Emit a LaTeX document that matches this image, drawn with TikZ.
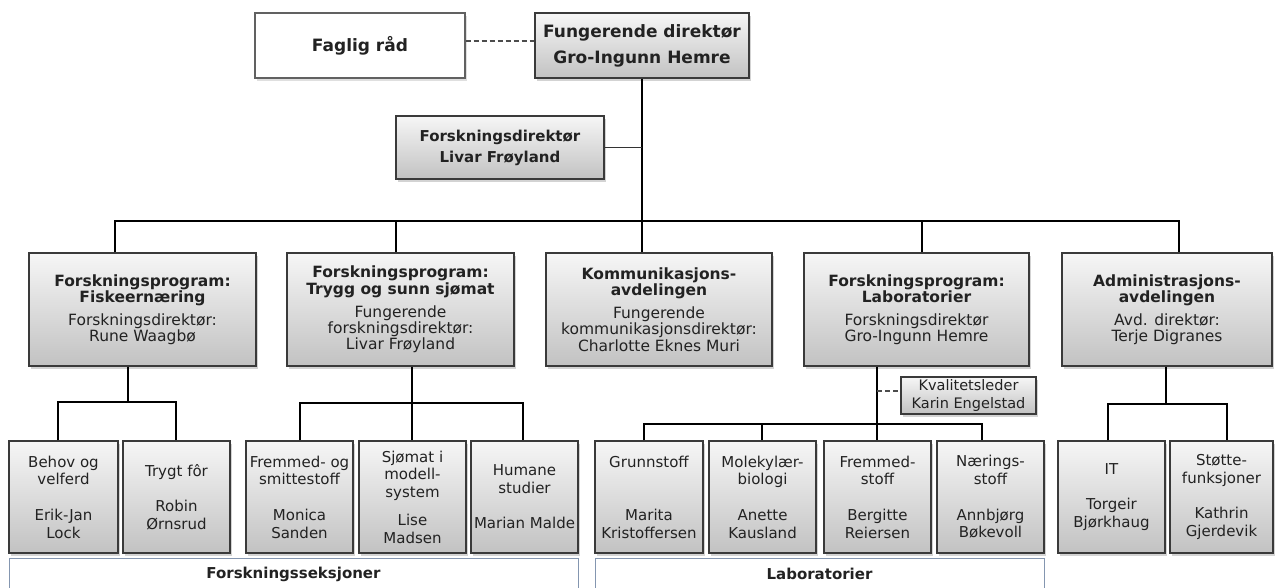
\documentclass[tikz,border=0pt]{standalone}
\usepackage{fontspec}
\setmainfont{DejaVu Sans}
\usetikzlibrary{shadows}
\definecolor{boxline}{HTML}{3A3A3A}
\definecolor{gtop}{HTML}{F6F6F6}
\definecolor{gbot}{HTML}{C2C2C2}
\definecolor{barline}{HTML}{8496B0}
\definecolor{txt}{HTML}{222222}
\tikzset{
  x=1pt, y=-1pt,
  gbox/.style={draw=boxline, line width=1.2pt, top color=gtop, bottom color=gbot,
    drop shadow={shadow xshift=2pt, shadow yshift=-2.5pt, opacity=0.35},
    inner sep=0pt, align=center, text=txt},
  wbox/.style={draw=boxline!80, line width=1.2pt, fill=white,
    drop shadow={shadow xshift=2pt, shadow yshift=-2.5pt, opacity=0.25},
    inner sep=0pt, align=center, text=txt},
  topfont/.style={font=\fontsize{17}{26}\selectfont\bfseries},
  fdfont/.style={font=\fontsize{15}{21}\selectfont\bfseries},
  progfont/.style={font=\fontsize{15.5}{16.3}\selectfont},
  smallfont/.style={font=\fontsize{15}{17.7}\selectfont},
  sbox/.style={gbox, smallfont, minimum height=112pt},
  pbox/.style={gbox, progfont, minimum height=113pt},
  barbox/.style={draw=barline, line width=1pt, fill=white, inner sep=0pt,
    font=\fontsize{15}{17}\selectfont\bfseries, text=txt, minimum height=32pt},
  conn/.style={draw=black, line width=2pt},
  thinconn/.style={draw=black!80, line width=1pt},
  dashconn/.style={draw=black!70, line width=1.1pt, dashed, dash pattern=on 5pt off 3pt},
}
\begin{document}
\begin{tikzpicture}
\useasboundingbox (0,0) rectangle (1275,587);

% top level
\node[wbox, topfont, minimum width=210pt, minimum height=65pt] (faglig) at (360,45.5) {Faglig råd};
\node[gbox, topfont, minimum width=214pt, minimum height=65pt] (dir) at (642,45.5) {Fungerende direktør\\Gro-Ingunn Hemre};
\node[gbox, fdfont, minimum width=208pt, minimum height=63pt] (fdir) at (500,147.5) {Forskningsdirektør\\Livar Frøyland};

% programme boxes
\node[pbox, minimum width=227pt] (fisk) at (142.5,309.5)
  {\textbf{Forskningsprogram:}\\\textbf{Fiskeernæring}\\[6.5pt]Forskningsdirektør:\\Rune Waagbø};
\node[pbox, minimum width=227pt] (trygg) at (400.5,309.5)
  {\textbf{Forskningsprogram:}\\\textbf{Trygg og sunn sjømat}\\[6.5pt]Fungerende\\forskningsdirektør:\\Livar Frøyland};
\node[pbox, minimum width=226pt] (komm) at (659,309.5)
  {\textbf{Kommunikasjons-}\\\textbf{avdelingen}\\[6.5pt]Fungerende\\kommunikasjonsdirektør:\\Charlotte Eknes Muri};
\node[pbox, minimum width=225pt] (lab) at (916.5,309.5)
  {\textbf{Forskningsprogram:}\\\textbf{Laboratorier}\\[6.5pt]Forskningsdirektør\\Gro-Ingunn Hemre};
\node[pbox, minimum width=210pt] (adm) at (1167,309.5)
  {\textbf{Administrasjons-}\\\textbf{avdelingen}\\[6.5pt]Avd. direktør:\\Terje Digranes};

\node[gbox, font=\fontsize{14.5}{18}\selectfont, minimum width=135pt, minimum height=37pt] (kval) at (968.5,395.5)
  {Kvalitetsleder\\Karin Engelstad};

% section boxes
\node[sbox, minimum width=109pt] (behov) at (63.5,497) {Behov og\\velferd\\[17.7pt]Erik-Jan\\Lock};
\node[sbox, minimum width=107pt] (tfor) at (176.5,497) {Trygt fôr\\[17.7pt]Robin\\Ørnsrud};
\node[sbox, minimum width=107pt] (fremsm) at (299.5,497) {Fremmed- og\\smittestoff\\[17.7pt]Monica\\Sanden};
\node[sbox, minimum width=107pt] (sjo) at (412.5,497) {Sjømat i\\modell-\\system\\[10pt]Lise\\Madsen};
\node[sbox, minimum width=107pt] (hum) at (524.5,497) {Humane\\studier\\[17.7pt]Marian Malde};
\node[sbox, minimum width=108pt] (grunn) at (649,497) {Grunnstoff\\[35.4pt]Marita\\Kristoffersen};
\node[sbox, minimum width=107pt] (mol) at (762.5,497) {Molekylær-\\biologi\\[17.7pt]Anette\\Kausland};
\node[sbox, minimum width=107pt] (fremst) at (877.5,497) {Fremmed-\\stoff\\[17.7pt]Bergitte\\Reiersen};
\node[sbox, minimum width=107pt] (naer) at (990.5,497) {Nærings-\\stoff\\[17.7pt]Annbjørg\\Bøkevoll};
\node[sbox, minimum width=107pt] (it) at (1111.5,497) {IT\\[17.7pt]Torgeir\\Bjørkhaug};
\node[sbox, minimum width=103pt] (stotte) at (1221.5,497) {Støtte-\\funksjoner\\[17.7pt]Kathrin\\Gjerdevik};

% bottom bars
\node[barbox, minimum width=569pt] (bar1) at (293.5,574) {Forskningsseksjoner};
\node[barbox, minimum width=449pt] (bar2) at (819.5,574) {Laboratorier};

% connectors, top
\draw[dashconn] ([yshift=4.5pt]faglig.east) -- ([yshift=4.5pt]faglig.east -| dir.west);
\draw[conn] (dir.south) -- (dir.south |- komm.north);
\draw[thinconn] (fdir.east) -- (fdir.east -| dir.south);

% bus
\coordinate (bL) at (115,221);
\coordinate (bR) at (1179,221);
\coordinate (bT) at (396,221);
\coordinate (bLab) at (922,221);
\draw[conn] (bL |- fisk.north) -- (bL) -- (bR) -- (bR |- adm.north);
\draw[conn] (bT) -- (bT |- trygg.north);
\draw[conn] (bLab) -- (bLab |- lab.north);

% Fiskeernæring subtree
\coordinate (fJ) at (128,402);
\coordinate (fL) at (58,402);
\coordinate (fR) at (176,402);
\draw[conn] (fJ |- fisk.south) -- (fJ);
\draw[conn] (fL |- behov.north) -- (fL) -- (fR) -- (fR |- tfor.north);

% Trygg subtree
\coordinate (tJ) at (412,403);
\coordinate (tL) at (300,403);
\coordinate (tR) at (523,403);
\draw[conn] (tJ |- trygg.south) -- (tJ |- sjo.north);
\draw[conn] (tL |- fremsm.north) -- (tL) -- (tR) -- (tR |- hum.north);

% Laboratorier subtree
\coordinate (lJ) at (877,424);
\coordinate (lL) at (644,424);
\coordinate (lM) at (762,424);
\coordinate (lR) at (982,424);
\draw[conn] (lJ |- lab.south) -- (lJ |- fremst.north);
\draw[conn] (lL |- grunn.north) -- (lL) -- (lR) -- (lR |- naer.north);
\draw[conn] (lM) -- (lM |- mol.north);
\coordinate (kq) at ([yshift=4.5pt]kval.west);
\draw[dashconn] (kq -| lJ) -- (kq);

% Administrasjon subtree
\coordinate (aJ) at (1166,404);
\coordinate (aL) at (1108,404);
\coordinate (aR) at (1227,404);
\draw[conn] (aJ |- adm.south) -- (aJ);
\draw[conn] (aL |- it.north) -- (aL) -- (aR) -- (aR |- stotte.north);
\end{tikzpicture}
\end{document}
